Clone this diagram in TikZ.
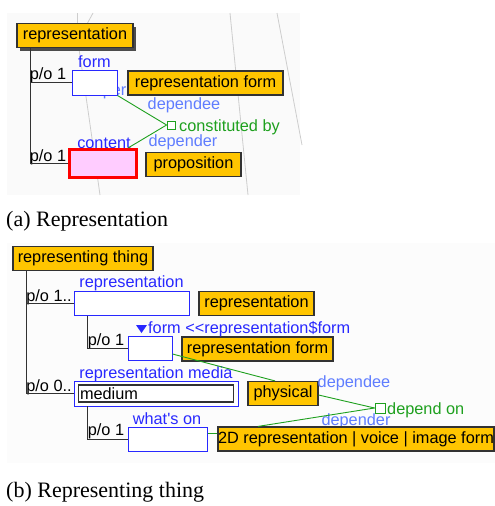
\documentclass[tikz,border=0pt]{standalone}
\usepackage{fontspec}
\setmainfont{Liberation Serif}
\newfontfamily\diafont{Liberation Sans}
\usetikzlibrary{shadows}
\definecolor{cls_orange}{RGB}{255, 197, 0}
\definecolor{cls_edge}{RGB}{50, 50, 50}
\definecolor{part_blue}{RGB}{40, 40, 255}
\definecolor{role_blue}{RGB}{95, 125, 255}
\definecolor{rel_green}{RGB}{30, 160, 30}
\definecolor{sel_pink}{RGB}{255, 204, 255}
\definecolor{bg_grey}{RGB}{250, 250, 250}
\definecolor{ln_grey}{RGB}{205, 205, 205}
\tikzstyle{cn}=[rectangle,fill=cls_orange,draw=cls_edge,line width=1.2pt,
  inner sep=0pt,minimum height=24pt]
\tikzstyle{pn}=[rectangle,fill=white,draw=part_blue,line width=1pt,
  inner sep=0pt,minimum height=24pt]
\tikzstyle{sn}=[rectangle,fill=white,draw=rel_green,line width=0.9pt,
  inner sep=0pt,minimum width=8pt,minimum height=8pt]
\tikzstyle{lbl}=[inner sep=0pt,text=part_blue]
\tikzstyle{role}=[inner sep=0pt,text=role_blue]
\tikzstyle{rel}=[inner sep=0pt,text=rel_green,anchor=west]
\tikzstyle{po}=[inner sep=0pt,text=black]
\tikzstyle{captxt}=[inner sep=0pt,anchor=west,font=\rmfamily\fontsize{22}{26}\selectfont]
\tikzstyle{none}=[]

\begin{document}
\begin{tikzpicture}[x=1pt,y=-1pt,font=\diafont\fontsize{16.3}{19}\selectfont]
            \useasboundingbox (0,0) rectangle (495,506);
            % (a) representation
            \fill [bg_grey] (7,13) rectangle (300,195);
            \draw [ln_grey,line width=0.8pt] (77,13) -- (77,24);
            \draw [ln_grey,line width=0.8pt] (93,13) -- (87,24);
            \draw [ln_grey,line width=0.8pt] (79,49) .. controls (88,110) .. (100,195);
            \draw [ln_grey,line width=0.8pt] (230,13) -- (248,195);
            \draw [ln_grey,line width=0.8pt] (277,13) -- (302,145);
            \node [style=role] (a1) at (106,93) {super};
            \node [style=lbl] (a2) at (104,143) {content};
            \node [style=cn,minimum width=116pt,
              drop shadow={shadow xshift=3pt,shadow yshift=-3pt,fill=black!70,opacity=1}]
              (0) at (75,35.5) {representation};
            \node [style=pn,minimum width=45pt,minimum height=25pt] (1) at (94.5,82.5) {};
            \node [style=cn,minimum width=155pt] (2) at (205.5,83) {representation form};
            \node [style=sn] (3) at (171,125) {};
            \node [style=pn,fill=sel_pink,draw=red,line width=3pt,
              minimum width=67pt,minimum height=28pt] (4) at (103,163.5) {};
            \node [style=cn,minimum width=95pt] (5) at (193.5,164.5) {proposition};
            \node [style=lbl] (a3) at (94.5,62) {form};
            \node [style=po] (a4) at (48,75) {p/o 1};
            \node [style=po] (a5) at (48,157) {p/o 1};
            \node [style=role] (a6) at (184,105) {dependee};
            \node [style=rel] (a7) at (179,127) {constituted by};
            \node [style=role] (a8) at (183,142) {depender};
            \coordinate (t0) at (30,47.5);
            \draw [line width=1pt,cls_edge] (t0) |- (1.west);
            \draw [line width=1pt,cls_edge] (t0) |- (4.west);
            \draw [rel_green,line width=0.9pt] (1.south east) to (3.west);
            \draw [rel_green,line width=0.9pt] (3.west) to ([xshift=-10pt]4.north east);
            \node [style=captxt] (a9) at (6,221) {(a) Representation};
            % (b) representing thing
            \fill [bg_grey!60] (7,243) rectangle (495,463);
            \node [style=role] (b1) at (356,421) {depender};
            \node [style=cn,minimum width=140pt] (6) at (83,258.5) {representing thing};
            \node [style=pn,minimum width=115pt] (7) at (131.5,303.5) {};
            \node [style=cn,minimum width=115pt] (8) at (256.5,303.5) {representation};
            \node [style=pn,minimum width=44pt] (9) at (150,348.5) {};
            \node [style=cn,minimum width=151pt] (10) at (257.5,349) {representation form};
            \node [style=pn,minimum width=164pt,minimum height=25pt] (11) at (156,393.5) {};
            \node [style=none,draw=cls_edge,line width=1.2pt,inner sep=1.5pt,
              text width=152pt,minimum height=17pt] (12) at (156,393.5) {medium};
            \node [style=cn,minimum width=70pt] (13) at (283,393.5) {physical};
            \node [style=pn,minimum width=79pt] (14) at (167.5,439) {};
            \node [style=cn,minimum width=276pt] (15) at (356,439)
              {2D representation | voice | image form};
            \node [style=sn,minimum width=10pt,minimum height=10pt] (16) at (380,408) {};
            \node [style=lbl] (b2) at (131.5,283) {representation};
            \fill [part_blue] (136,325) -- (147,325) -- (141.5,333) -- cycle;
            \node [style=lbl,anchor=west] (b3) at (148,329) {form <<representation\$form};
            \node [style=lbl] (b4) at (156,374) {representation media};
            \node [style=lbl] (b5) at (167,419) {what's on};
            \node [style=po] (b6) at (49,297) {p/o 1..};
            \node [style=po] (b7) at (106,341) {p/o 1};
            \node [style=po] (b8) at (49,387) {p/o 0..};
            \node [style=po] (b9) at (106,431) {p/o 1};
            \node [style=role] (b10) at (354,383) {dependee};
            \node [style=rel] (b11) at (387,410) {depend on};
            \coordinate (t1) at (26,271);
            \coordinate (t2) at (87,316);
            \coordinate (t3) at (87,406);
            \draw [line width=1pt,cls_edge] (t1) |- (7.west);
            \draw [line width=1pt,cls_edge] (t1) |- (11.west);
            \draw [line width=1pt,cls_edge] (t2) |- (9.west);
            \draw [line width=1pt,cls_edge] (t3) |- (14.west);
            \draw [rel_green,line width=0.9pt] ([yshift=-5.5pt]9.east) to ([xshift=-8pt]13.north);
            \draw [rel_green,line width=0.9pt] ([yshift=-1.5pt]13.east) to (16.west);
            \draw [rel_green,line width=0.9pt] (16.west) to ([xshift=-98pt]15.north);
            \draw [rel_green,line width=0.9pt] ([yshift=6pt]14.east) to ([yshift=6pt]15.west);
            \node [style=captxt] (b12) at (6,492) {(b) Representing thing};
    \end{tikzpicture}
\end{document}
